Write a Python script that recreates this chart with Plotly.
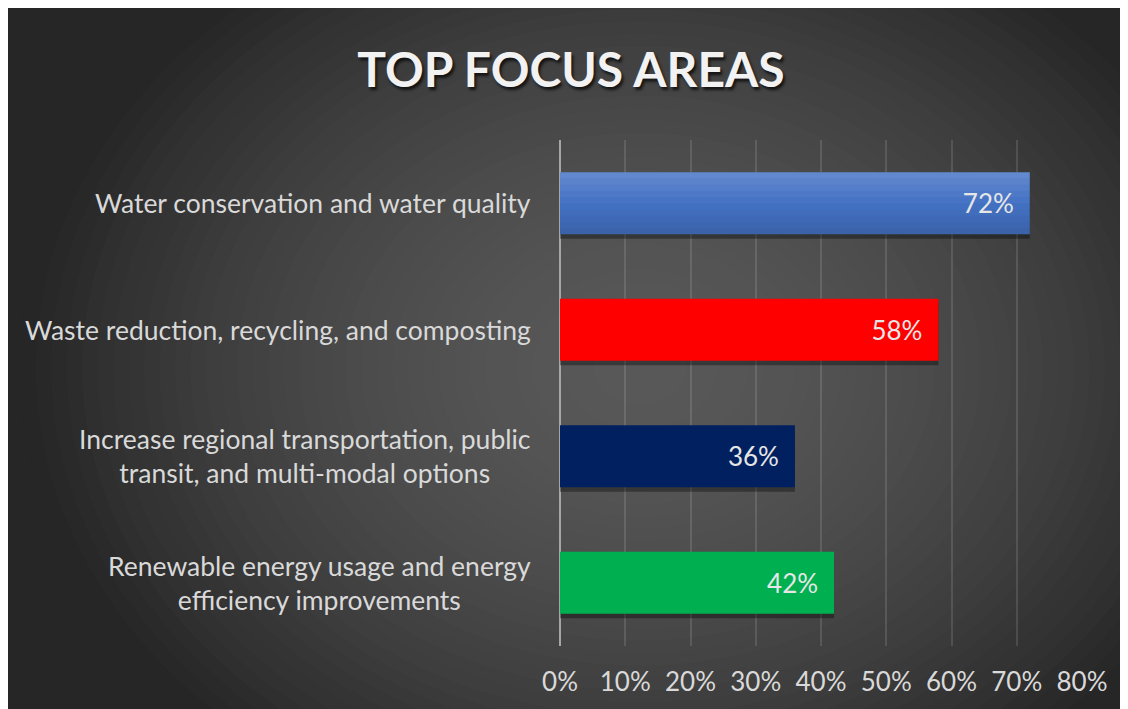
import plotly.graph_objects as go

categories = [
    "Water conservation and water quality",
    "Waste reduction, recycling, and composting",
    "Increase regional transportation, public<br>transit, and multi-modal options",
    "Renewable energy usage and energy<br>efficiency improvements",
]
values = [0.72, 0.58, 0.36, 0.42]
bar_colors = ["#4472C4", "#FF0000", "#002060", "#00B050"]
shaded = [True, False, False, False]  # bars drawn with a vertical gradient
tick_vals = [0, 0.1, 0.2, 0.3, 0.4, 0.5, 0.6, 0.7, 0.8]
tick_text = ["0%", "10%", "20%", "30%", "40%", "50%", "60%", "70%", "80%"]
title_text = "TOP FOCUS AREAS"

OFF = 8  # page body margin
W, H = 1128 - OFF, 709 - OFF
ML, MR, MT, MB = 560 - OFF, W - (1082 - OFF), 140 - OFF, H - (650 - OFF)
PW, PH = W - ML - MR, H - MT - MB


def px_x(px):
    return (px - OFF - ML) / PW


def px_y(py):
    return (H - MB - (py - OFF)) / PH


shapes = []
# radial gradient from concentric ellipses (screen-pixel geometry)
cx, cy, rx, ry = 640, 370, 620, 500
n = 40
base, peak = 38, 88
for k in range(n, 0, -1):
    d = k / n
    lvl = int(round(base + (peak - base) * (1 - d ** 1.78)))
    col = f"rgb({lvl},{lvl},{lvl})"
    shapes.append(dict(type="circle", xref="paper", yref="paper", layer="below",
                       x0=px_x(cx - rx * d), x1=px_x(cx + rx * d),
                       y0=px_y(cy + ry * d), y1=px_y(cy - ry * d),
                       fillcolor=col, line=dict(width=0)))

fig = go.Figure()
bw = 0.49
# soft shadow
fig.add_trace(go.Bar(
    x=values, y=categories, orientation="h", width=bw,
    offset=-bw / 2 + 0.035,
    marker=dict(color="rgba(0,0,0,0.35)", line=dict(width=0)),
    hoverinfo="skip", showlegend=False,
))
# main bars
fig.add_trace(go.Bar(
    x=values, y=categories, orientation="h", width=bw,
    offset=-bw / 2,
    marker=dict(color=bar_colors, line=dict(width=0)),
    hovertemplate="%{y}: %{x:.0%}<extra></extra>",
    showlegend=False,
))
# gradient bands for shaded bars (light at top, darker at bottom)
nb = 10
for i in range(nb):
    t = (i + 0.5) / nb
    a = 0.18 * (1 - 2 * t)
    band_col = f"rgba(255,255,255,{a:.3f})" if a >= 0 else f"rgba(0,0,0,{-a * 0.8:.3f})"
    fig.add_trace(go.Bar(
        x=values, y=categories, orientation="h", width=bw / nb,
        offset=-bw / 2 + i * bw / nb,
        marker=dict(color=[band_col if s else "rgba(0,0,0,0)" for s in shaded],
                    line=dict(width=0)),
        hoverinfo="skip", showlegend=False,
    ))
# value labels
fig.add_trace(go.Bar(
    x=values, y=categories, orientation="h", width=bw,
    offset=-bw / 2,
    marker=dict(color="rgba(0,0,0,0)", line=dict(width=0)),
    texttemplate="%{x:.0%}\u2002",
    textposition="inside", insidetextanchor="end",
    textfont=dict(family="Lato", size=26, color="#E6E6E6"),
    hoverinfo="skip", showlegend=False,
))

annotations = []
for c in categories:
    annotations.append(dict(
        x=0, xref="paper", y=c, yref="y", xanchor="right", yanchor="middle",
        xshift=-27, text=c, showarrow=False, align="center",
        font=dict(family="Lato", size=26.5, color="#D9D9D9"),
    ))

fig.update_layout(
    width=W, height=H,
    margin=dict(l=ML, r=MR, t=MT, b=MB),
    paper_bgcolor="#262626",
    plot_bgcolor="rgba(0,0,0,0)",
    barmode="overlay",
    shapes=shapes,
    annotations=annotations,
    title=dict(
        text=title_text, x=(571 - OFF) / W, xanchor="center",
        y=1 - (70 - OFF) / H, yanchor="middle", yref="container",
        font=dict(family="Lato", size=48, color="#F2F2F2", weight="bold",
                  shadow="2px 3px 3px rgba(0,0,0,0.7)"),
    ),
    xaxis=dict(
        range=[0, 0.8], tickvals=tick_vals, ticktext=tick_text,
        showgrid=True, gridcolor="rgba(255,255,255,0.12)", gridwidth=2,
        zeroline=True, zerolinecolor="#A6A6A6", zerolinewidth=2,
        showline=False, ticks="",
        tickfont=dict(family="Lato", size=26, color="#D9D9D9"),
        ticklabelstandoff=18, fixedrange=True,
    ),
    yaxis=dict(
        autorange="reversed", showticklabels=False, showgrid=False,
        zeroline=False, showline=False, ticks="", fixedrange=True,
    ),
)

fig.write_html("out.html")
